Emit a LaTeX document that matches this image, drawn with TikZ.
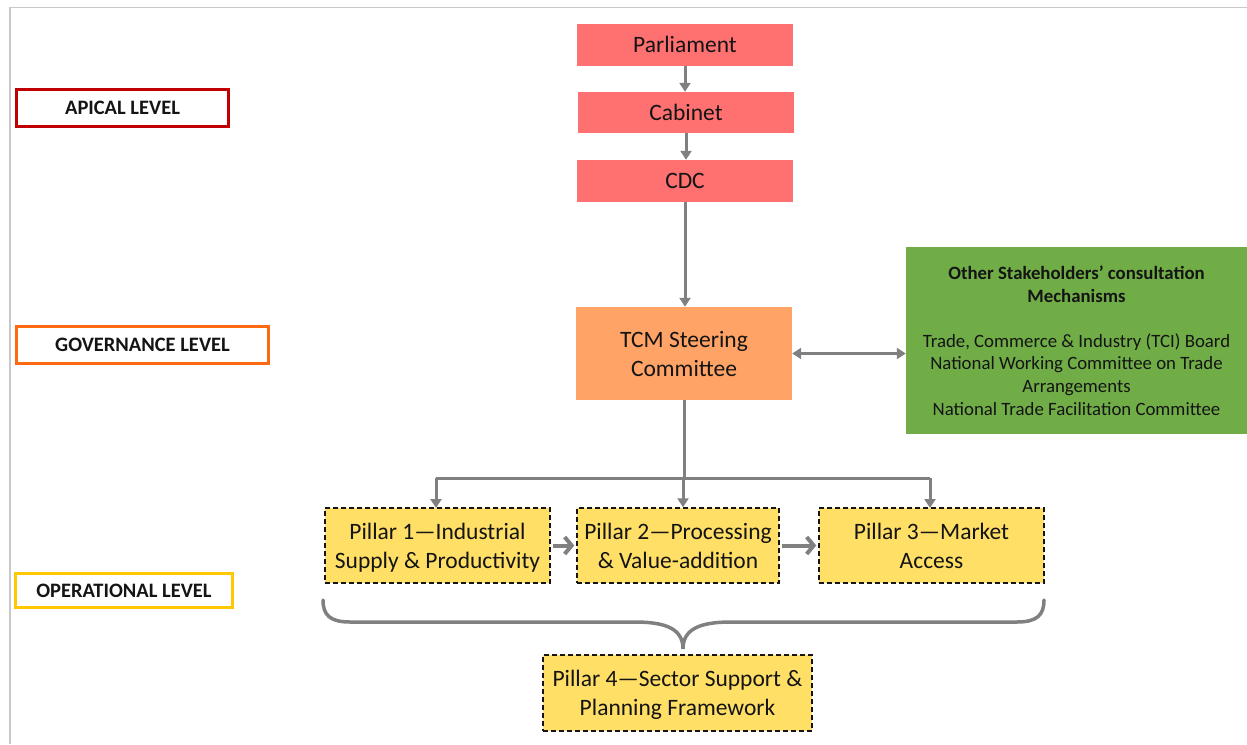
\documentclass[tikz,border=0pt]{standalone}
\usepackage{fontspec}
\setmainfont{Carlito}
\usetikzlibrary{arrows.meta}

\definecolor{apexred}{HTML}{FF7070}
\definecolor{govorange}{HTML}{FFA366}
\definecolor{stakegreen}{HTML}{70AD47}
\definecolor{pillaryellow}{HTML}{FFDF66}
\definecolor{linkgray}{HTML}{808080}
\definecolor{framegray}{HTML}{C8C8C8}
\definecolor{lvlred}{HTML}{C00000}
\definecolor{lvlorange}{HTML}{FF6A10}
\definecolor{lvlyellow}{HTML}{FFC800}
\definecolor{ink}{HTML}{141414}

\tikzset{
  apexbox/.style={fill=apexred, minimum width=216pt, minimum height=42pt, inner sep=0pt,
    text=ink, font=\fontsize{23.5}{28}\selectfont},
  govbox/.style={fill=govorange, minimum width=216pt, minimum height=93pt, inner sep=0pt,
    text=ink, align=center, font=\fontsize{23.5}{29}\selectfont},
  stakebox/.style={fill=stakegreen, minimum width=341pt, minimum height=187pt, inner sep=0pt,
    text=ink, align=center, font=\fontsize{18.8}{22.6}\selectfont},
  pillarbox/.style={fill=pillaryellow, draw=ink, line width=1.5pt, dash pattern=on 5pt off 3pt,
    minimum height=75pt, inner sep=0pt, text=ink, align=center,
    font=\fontsize{23.5}{29}\selectfont},
  levelbox/.style={draw=#1, fill=white, line width=3pt, inner sep=0pt, text=ink,
    font=\bfseries\fontsize{20.5}{24}\selectfont},
  link/.style={draw=linkgray, line width=3pt},
  arr/.style={link, -{Triangle[length=9pt,width=11pt]}},
  dblarr/.style={link, {Triangle[length=9pt,width=11pt]}-{Triangle[length=9pt,width=11pt]}},
  chev/.style={draw=linkgray, line width=4pt, -{Straight Barb[length=7pt,width=17pt]}},
}

\begin{document}
\begin{tikzpicture}[x=1pt,y=-1pt]
\useasboundingbox (0,0) rectangle (1247,744);

% page frame
\draw[framegray, line width=1.2pt] (10,744) -- (10,7.5) -- (1247,7.5);

% level labels
\node[levelbox=lvlred, minimum width=212pt, minimum height=37pt] (apical) at (122.5,108) {APICAL LEVEL};
\node[levelbox=lvlorange, minimum width=252pt, minimum height=37pt] (govern) at (142.5,345) {GOVERNANCE LEVEL};
\node[levelbox=lvlyellow, minimum width=217pt, minimum height=34pt] (oper) at (124,590.5) {OPERATIONAL LEVEL};

% apex chain
\node[apexbox] (parl) at (685,44.5) {Parliament};
\node[apexbox, minimum height=41pt] (cab) at (686,112.5) {Cabinet};
\node[apexbox] (cdc) at (685,181) {CDC};

% governance
\node[govbox] (tcm) at (684,353.5) {TCM Steering\\Committee};
\node[stakebox] (stake) at (1076.5,340.5) {%
  \textbf{Other Stakeholders’ consultation}\\
  \textbf{Mechanisms}\\[22.6pt]
  Trade, Commerce \& Industry (TCI) Board\\
  National Working Committee on Trade\\
  Arrangements\\
  National Trade Facilitation Committee};

% pillars (descenders of the last line smashed so all boxes share baselines)
\node[pillarbox, minimum width=225pt] (p1) at (437.5,545.5) {Pillar 1—Industrial\\\smash{Supply \& Productivity}};
\node[pillarbox, minimum width=202pt] (p2) at (678,545.5) {Pillar 2—Processing\\\& Value-addition};
\node[pillarbox, minimum width=225pt] (p3) at (931.5,545.5) {Pillar 3—Market\\Access};
\node[pillarbox, minimum width=269pt, minimum height=76pt] (p4) at (677.5,693) {Pillar 4—Sector Support \&\\\smash{Planning Framework}};

% connectors
\draw[arr] (parl.south) -- (parl.south |- cab.north);
\draw[arr] (cab.south) -- (cab.south |- cdc.north);
\draw[arr] (cdc.south) -- (cdc.south |- tcm.north);
\draw[dblarr] (tcm.east) -- (tcm.east -| stake.west);

\coordinate (bar) at (683,478);
\draw[link] (tcm.south) -- (tcm.south |- bar);
\draw[link] (436,478) -- (930,478);
\draw[arr] (436,478) -- (436,508);
\draw[arr] (bar) -- (bar |- p2.north);
\draw[arr] (930,478) -- (930,508);

\draw[chev, shorten <=2pt, shorten >=2pt] (p1.east) -- (p2.west);
\draw[chev, shorten <=2pt, shorten >=2pt] (p2.east) -- (p3.west);

% brace grouping pillars 1-3 over pillar 4
\coordinate (bl) at (323,600);
\coordinate (br) at (1044,600);
\coordinate (tip) at (683,649);
\draw[draw=linkgray, line width=3.5pt, line cap=round]
  (bl) .. controls (323,615) and (330,622) .. (350,622)
  -- (635,622) .. controls (668,622) and (683,630) .. (tip)
  .. controls (683,630) and (698,622) .. (731,622)
  -- (1017,622) .. controls (1037,622) and (1044,615) .. (br);
\end{tikzpicture}
\end{document}
